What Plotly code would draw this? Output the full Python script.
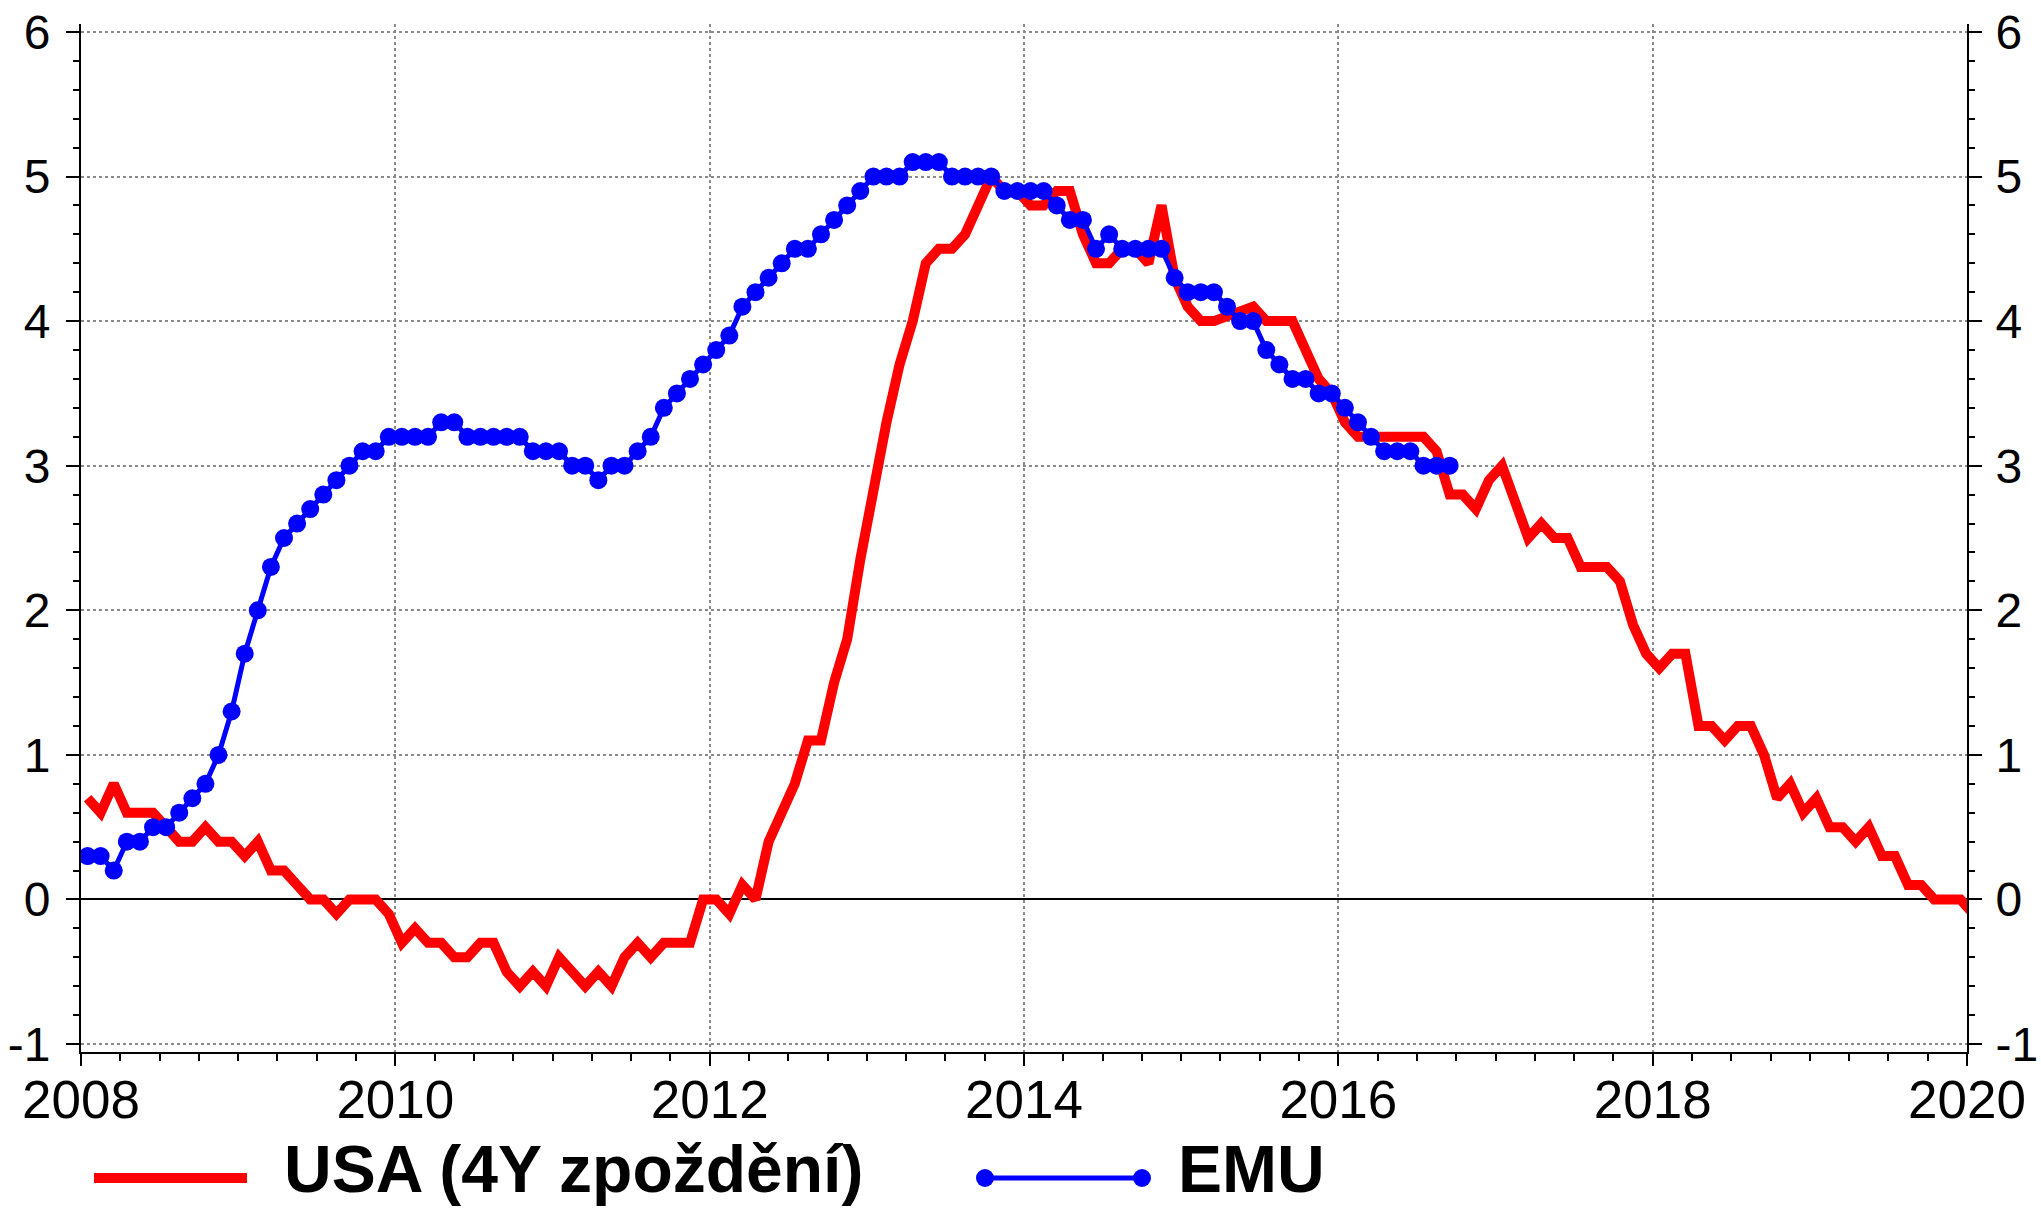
import plotly.graph_objects as go

# ---------------- data ----------------
start_year = 2008
usa_4y_lag = [
    0.7, 0.6, 0.8, 0.6, 0.6, 0.6, 0.5, 0.4, 0.4, 0.5, 0.4, 0.4,
    0.3, 0.4, 0.2, 0.2, 0.1, 0.0, 0.0, -0.1, 0.0, 0.0, 0.0, -0.1,
    -0.3, -0.2, -0.3, -0.3, -0.4, -0.4, -0.3, -0.3, -0.5, -0.6, -0.5, -0.6,
    -0.4, -0.5, -0.6, -0.5, -0.6, -0.4, -0.3, -0.4, -0.3, -0.3, -0.3, 0.0,
    0.0, -0.1, 0.1, 0.0, 0.4, 0.6, 0.8, 1.1, 1.1, 1.5, 1.8, 2.35,
    2.85, 3.3, 3.7, 4.0, 4.4, 4.5, 4.5, 4.6, 4.8, 5.0, 4.9, 4.9,
    4.8, 4.8, 4.9, 4.9, 4.6, 4.4, 4.4, 4.5, 4.5, 4.4, 4.8, 4.3,
    4.1, 4.0, 4.0, 4.03, 4.07, 4.1, 4.0, 4.0, 4.0, 3.8, 3.6, 3.5,
    3.3, 3.2, 3.2, 3.2, 3.2, 3.2, 3.2, 3.1, 2.8, 2.8, 2.7, 2.9,
    3.0, 2.75, 2.5, 2.6, 2.5, 2.5, 2.3, 2.3, 2.3, 2.2, 1.9, 1.7,
    1.6, 1.7, 1.7, 1.2, 1.2, 1.1, 1.2, 1.2, 1.0, 0.7, 0.8, 0.6,
    0.7, 0.5, 0.5, 0.4, 0.5, 0.3, 0.3, 0.1, 0.1, 0.0, 0.0, 0.0,
    -0.1,
]
emu = [
    0.3, 0.3, 0.2, 0.4, 0.4, 0.5, 0.5, 0.6, 0.7, 0.8, 1.0, 1.3,
    1.7, 2.0, 2.3, 2.5, 2.6, 2.7, 2.8, 2.9, 3.0, 3.1, 3.1, 3.2,
    3.2, 3.2, 3.2, 3.3, 3.3, 3.2, 3.2, 3.2, 3.2, 3.2, 3.1, 3.1,
    3.1, 3.0, 3.0, 2.9, 3.0, 3.0, 3.1, 3.2, 3.4, 3.5, 3.6, 3.7,
    3.8, 3.9, 4.1, 4.2, 4.3, 4.4, 4.5, 4.5, 4.6, 4.7, 4.8, 4.9,
    5.0, 5.0, 5.0, 5.1, 5.1, 5.1, 5.0, 5.0, 5.0, 5.0, 4.9, 4.9,
    4.9, 4.9, 4.8, 4.7, 4.7, 4.5, 4.6, 4.5, 4.5, 4.5, 4.5, 4.3,
    4.2, 4.2, 4.2, 4.1, 4.0, 4.0, 3.8, 3.7, 3.6, 3.6, 3.5, 3.5,
    3.4, 3.3, 3.2, 3.1, 3.1, 3.1, 3.0, 3.0, 3.0,
]
x_tick_values = [2008, 2010, 2012, 2014, 2016, 2018, 2020]
x_tick_labels = ["2008", "2010", "2012", "2014", "2016", "2018", "2020"]
y_tick_values = [-1, 0, 1, 2, 3, 4, 5, 6]
y_tick_labels = ["-1", "0", "1", "2", "3", "4", "5", "6"]
series_names = ["USA (4Y zpoždění)", "EMU"]

# monthly positions (mid-month, decimal years)
x_usa = [start_year + (i + 0.5) / 12 for i in range(len(usa_4y_lag))]
x_emu = [start_year + (i + 0.5) / 12 for i in range(len(emu))]

# ---------------- layout constants ----------------
W, H = 2041, 1210
OFF = 0                       # page body margin is removed below
ML, MT = 81 - OFF, 24 - OFF   # target plot-area edges in the screenshot
PW, PH = 1886, 1028
MR = W - ML - PW
MB = H - MT - PH
RED = "#FF0000"
BLUE = "#0000FF"
FONT = "Liberation Sans, Arial, sans-serif"


def px_x(p):
    return (p - OFF - ML) / PW


def px_y(p):
    return (MT + PH - (p - OFF)) / PH


fig = go.Figure()
fig.add_trace(go.Scatter(
    x=x_usa, y=usa_4y_lag, mode="lines", name=series_names[0],
    line=dict(color=RED, width=10), showlegend=False,
))
fig.add_trace(go.Scatter(
    x=x_emu, y=emu, mode="lines+markers", name=series_names[1],
    line=dict(color=BLUE, width=5),
    marker=dict(color=BLUE, size=18, symbol="circle"), showlegend=False,
))
# dummy trace to bring the right-hand axis to life
fig.add_trace(go.Scatter(x=[None], y=[None], yaxis="y2", showlegend=False,
                         hoverinfo="skip"))

y_tick_font = dict(family=FONT, size=48, color="black")
x_tick_font = dict(family=FONT, size=53, color="black")
yaxis_common = dict(
    range=[-1.055, 6.055], tickmode="array", tickvals=y_tick_values,
    ticktext=y_tick_labels, ticks="outside", ticklen=13, tickwidth=2,
    tickcolor="black", showline=True, linecolor="black", linewidth=2,
    tickfont=y_tick_font, automargin=False, ticklabeloverflow="allow",
    minor=dict(dtick=0.2, ticks="outside", ticklen=6, tickwidth=2,
               tickcolor="black", showgrid=False),
)

fig.update_layout(
    width=W, height=H, autosize=False,
    margin=dict(l=ML, r=MR, t=MT, b=MB, pad=0, autoexpand=False),
    paper_bgcolor="white", plot_bgcolor="white",
    showlegend=False,
    xaxis=dict(
        range=[2008, 2020], tickmode="array", tickvals=x_tick_values,
        ticktext=x_tick_labels, ticks="outside", ticklen=12, tickwidth=2,
        tickcolor="black", showline=True, linecolor="black", linewidth=2,
        showgrid=True, gridcolor="#8a8a8a", gridwidth=1.5, griddash="dot",
        zeroline=False, tickfont=x_tick_font, ticklabelstandoff=-12,
        automargin=False, ticklabeloverflow="allow",
        minor=dict(dtick=0.25, tick0=2008, ticks="outside", ticklen=7,
                   tickwidth=2, tickcolor="black", showgrid=False),
    ),
    yaxis=dict(
        **yaxis_common, ticklabelstandoff=6,
        showgrid=True, gridcolor="#8a8a8a", gridwidth=1.5, griddash="dot",
        zeroline=True, zerolinecolor="black", zerolinewidth=2,
    ),
    yaxis2=dict(
        **yaxis_common, ticklabelstandoff=4,
        overlaying="y", side="right", anchor="x",
        showgrid=False, zeroline=False,
    ),
)

# ---------------- manual legend ----------------
leg_y = px_y(1178)
txt_y = px_y(1169)
fig.add_shape(type="line", xref="paper", yref="paper",
              x0=px_x(94), x1=px_x(247), y0=leg_y, y1=leg_y,
              line=dict(color=RED, width=10))
fig.add_annotation(text="<b>%s</b>" % series_names[0], xref="paper", yref="paper",
                   x=px_x(282), y=txt_y, xanchor="left", yanchor="middle",
                   showarrow=False, font=dict(family=FONT, size=66, color="black"))
fig.add_shape(type="line", xref="paper", yref="paper",
              x0=px_x(985), x1=px_x(1142), y0=leg_y, y1=leg_y,
              line=dict(color=BLUE, width=5))
for cx in (985, 1142):
    fig.add_shape(type="circle", xref="paper", yref="paper",
                  xsizemode="pixel", ysizemode="pixel",
                  xanchor=px_x(cx), yanchor=leg_y,
                  x0=-9, x1=9, y0=-9, y1=9,
                  fillcolor=BLUE, line=dict(color=BLUE, width=0))
fig.add_annotation(text="<b>%s</b>" % series_names[1], xref="paper", yref="paper",
                   x=px_x(1176), y=txt_y, xanchor="left", yanchor="middle",
                   showarrow=False, font=dict(family=FONT, size=66, color="black"))

fig.write_html("out.html",
               config={"displayModeBar": False},
               post_script="document.body.style.margin='0';"
                           "document.body.style.overflow='hidden';")
